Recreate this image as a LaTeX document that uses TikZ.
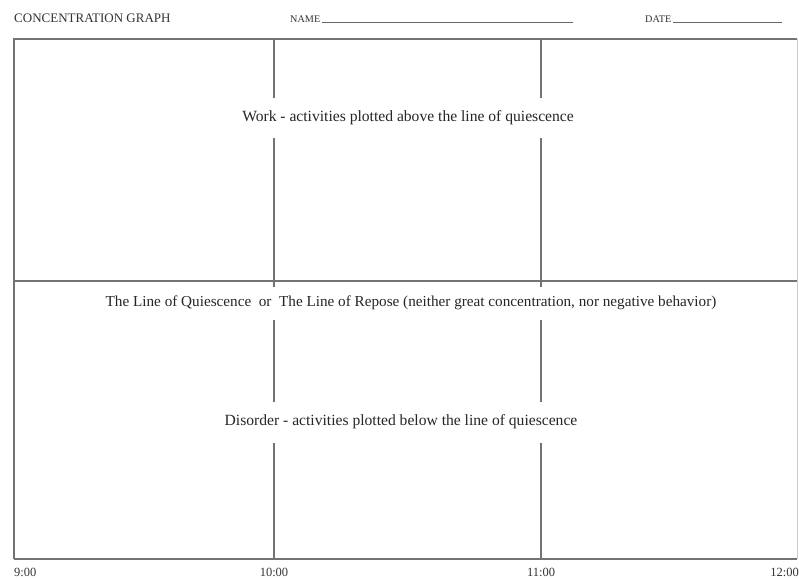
\documentclass[tikz,border=0pt]{standalone}
\usepackage{fontspec}
\setmainfont{Liberation Serif}
\begin{document}
\begin{tikzpicture}[x=1pt,y=-1pt,
  frame/.style={draw=black!55,line width=1.6pt},
  grid/.style={draw=black!55,line width=1.4pt},
  lbl/.style={text=black!85,font=\fontsize{15.6}{18}\selectfont,inner sep=0pt},
  gaplbl/.style={lbl,fill=white,inner xsep=3pt},
  hdr/.style={text=black!80,font=\fontsize{13}{15}\selectfont,inner sep=0pt,anchor=west},
  tlbl/.style={text=black!80,font=\fontsize{12.5}{14}\selectfont,inner sep=0pt},
  uline/.style={draw=black!60,line width=1pt}]
\useasboundingbox[fill=white] (0,0) rectangle (799,578);
% frame corners
\coordinate (tl) at (14,39);
\coordinate (br) at (797,559);
\coordinate (ml) at (14,281);
\coordinate (mr) at (797,281);
\coordinate (v1t) at (274,39);
\coordinate (v1b) at (274,559);
\coordinate (v2t) at (541,39);
\coordinate (v2b) at (541,559);
% grid lines
\draw[grid] (v1t) -- (v1b);
\draw[grid] (v2t) -- (v2b);
\draw[grid] (ml) -- (mr);
\draw[frame] (14,559) -- (14,39) -- (797,39);
\draw[frame] (14,559) -- (797,559);
\draw[draw=black!20,line width=1pt] (797,39) -- (797,559);
% labels covering the verticals
\node[gaplbl,minimum height=40pt] (work) at (408,118) {Work - activities plotted above the line of quiescence};
\node[gaplbl,minimum height=33pt,font=\fontsize{15.2}{18}\selectfont] (quie) at (411,303) {\raisebox{-3pt}{The Line of Quiescence\ \ or\ \ The Line of Repose (neither great concentration, nor negative behavior)}};
\node[gaplbl,minimum height=41pt] (dis) at (401,422) {Disorder - activities plotted below the line of quiescence};
% header
\node[hdr] (title) at (14,18) {CONCENTRATION GRAPH};
\node[hdr,font=\fontsize{10.2}{12}\selectfont] (name) at (290,19) {NAME};
\coordinate (nameend) at (573,22);
\draw[uline] (name.south east) ++(2pt,0) coordinate (nstart) -- (nstart -| nameend);
\node[hdr,font=\fontsize{10.2}{12}\selectfont] (date) at (645,19) {DATE};
\coordinate (dateend) at (782,22);
\draw[uline] (date.south east) ++(2pt,0) coordinate (dstart) -- (dstart -| dateend);
% time labels
\node[tlbl,anchor=west] (t9) at (14,572) {9:00};
\node[tlbl] (t10) at (274,572) {10:00};
\node[tlbl] (t11) at (541,572) {11:00};
\node[tlbl,anchor=east] (t12) at (799,572) {12:00};
\end{tikzpicture}
\end{document}
